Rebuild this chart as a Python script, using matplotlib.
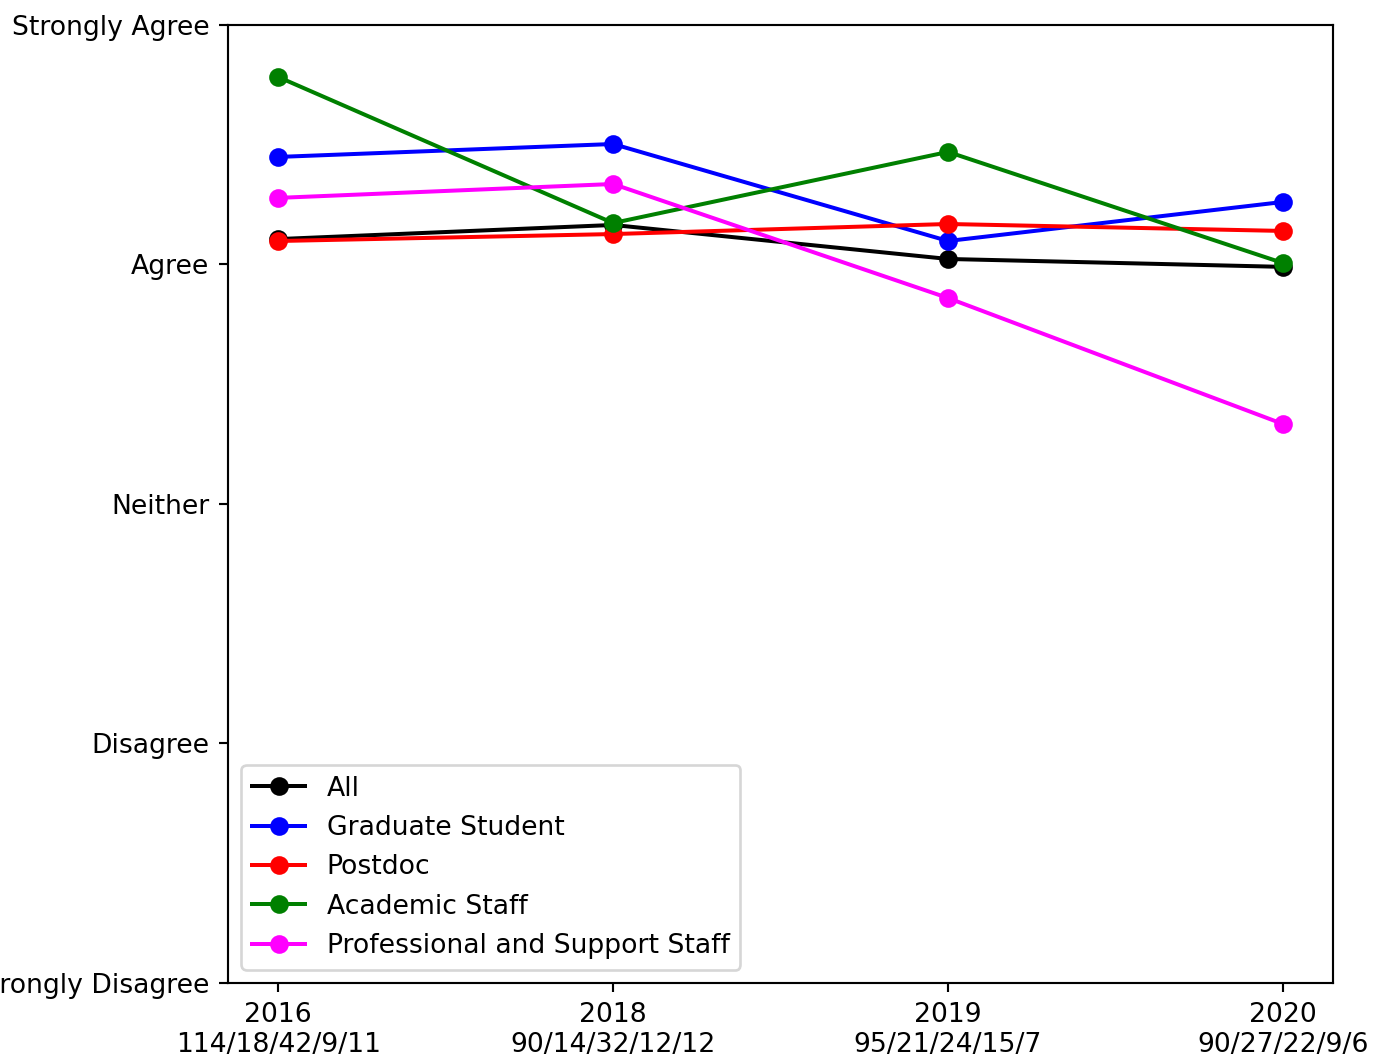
import numpy as np
import matplotlib
matplotlib.use('Agg')
import matplotlib.pyplot as plt

DPI = 192

YEARS = ['2016', '2018', '2019', '2020']
COUNTS = ['114/18/42/9/11', '90/14/32/12/12', '95/21/24/15/7', '90/27/22/9/6']
SCALE = ['Strongly Disagree', 'Disagree', 'Neither', 'Agree', 'Strongly Agree']

all_resp = [4.106, 4.165, 4.023, 3.990]
grad_student = [4.449, 4.503, 4.098, 4.261]
postdoc = [4.098, 4.127, 4.169, 4.140]
academic_staff = [4.783, 4.173, 4.470, 4.006]
prof_support = [4.278, 4.336, 3.860, 3.334]

SERIES = [
    ('All', all_resp, 'black'),
    ('Graduate Student', grad_student, 'blue'),
    ('Postdoc', postdoc, 'red'),
    ('Academic Staff', academic_staff, 'green'),
    ('Professional and Support Staff', prof_support, 'magenta'),
]


def main() -> None:
    fig = plt.figure(figsize=(1373 / DPI, 1058 / DPI), dpi=DPI)
    ax = fig.add_axes([0.166, 0.0709, 0.805, 0.9055])

    x = np.arange(len(YEARS))
    for label, values, color in SERIES:
        ax.plot(x, values, '-o', color=color, label=label)

    ax.set_ylim(1, 5)
    ax.set_yticks(range(1, 6))
    ax.set_yticklabels(SCALE)
    ax.set_xlim(-0.15, 3.15)
    ax.set_xticks(x)
    ax.set_xticklabels([f'{y}\n{c}' for y, c in zip(YEARS, COUNTS)])
    ax.legend(loc='lower left')

    fig.savefig('out.png', dpi=DPI)


if __name__ == '__main__':
    main()
